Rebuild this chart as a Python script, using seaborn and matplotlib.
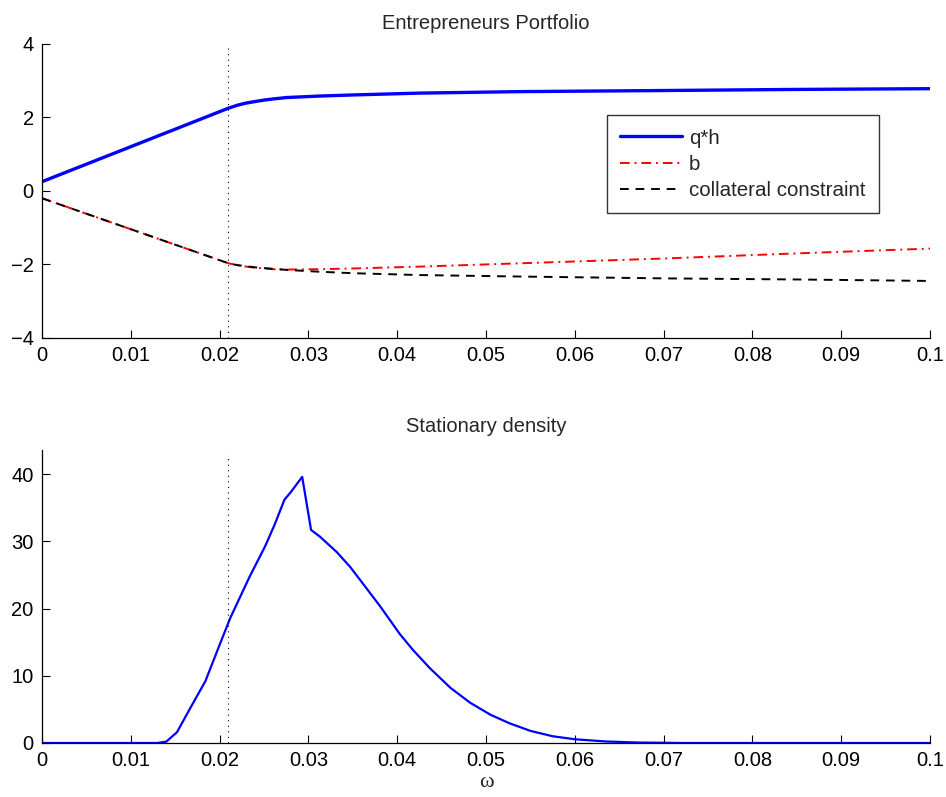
import matplotlib
matplotlib.use("Agg")
import matplotlib.pyplot as plt
import seaborn as sns
import pandas as pd

# ---- data ----
x_top = [0, 0.021, 0.022, 0.023, 0.024, 0.025, 0.026, 0.0276, 0.0313, 0.0351, 0.0426,
         0.0538, 0.07, 0.085, 0.1]
qh = [0.25, 2.25, 2.33, 2.39, 2.43, 2.47, 2.50, 2.54, 2.58, 2.61, 2.66,
      2.70, 2.73, 2.76, 2.78]
b_vals = [-0.2, -1.97, -2.02, -2.06, -2.09, -2.11, -2.13, -2.14, -2.13, -2.11, -2.06,
          -1.97, -1.84, -1.70, -1.57]
collateral = [-0.2, -1.97, -2.02, -2.05, -2.08, -2.10, -2.12, -2.15, -2.20, -2.24, -2.29,
              -2.33, -2.38, -2.41, -2.45]

x_dens = [0, 0.005, 0.01, 0.013, 0.014, 0.0152, 0.0167, 0.0184, 0.0200, 0.0212,
          0.0234, 0.0251, 0.0262, 0.0273, 0.0280, 0.0293, 0.0303, 0.0313, 0.0332,
          0.0347, 0.0358, 0.0381, 0.0403, 0.0418, 0.0437, 0.046, 0.0482, 0.0505,
          0.0527, 0.055, 0.0575, 0.06, 0.0635, 0.067, 0.072, 0.08, 0.09, 0.1]
y_dens = [0, 0, 0, 0, 0.2, 1.6, 5.2, 9.2, 14.6, 18.6,
          24.8, 29.2, 32.5, 36.2, 37.3, 39.6, 31.7, 30.7, 28.4,
          26.2, 24.3, 20.3, 16.2, 13.8, 11.1, 8.2, 6.0, 4.2,
          2.9, 1.8, 1.0, 0.55, 0.22, 0.07, 0, 0, 0, 0]

omega_star = 0.0209
x_ticks = [0, 0.01, 0.02, 0.03, 0.04, 0.05, 0.06, 0.07, 0.08, 0.09, 0.1]
x_ticklabels = ["0", "0.01", "0.02", "0.03", "0.04", "0.05", "0.06", "0.07", "0.08", "0.09", "0.1"]
top_yticks = [-4, -2, 0, 2, 4]
bot_yticks = [0, 10, 20, 30, 40]

FS = 14.5

sns.set_style("ticks")
plt.rcParams['font.family'] = ['Liberation Sans', 'DejaVu Sans']
plt.rcParams['font.size'] = FS

fig = plt.figure(figsize=(9.46, 7.97), dpi=100)
ax1 = fig.add_axes([0.0444, 0.576, 0.9387, 0.369])
ax2 = fig.add_axes([0.0444, 0.0678, 0.9387, 0.3676])

df_top = pd.DataFrame({"x": x_top, "qh": qh, "b": b_vals, "col": collateral})
sns.lineplot(data=df_top, x="x", y="qh", ax=ax1, color="#0000ff", lw=2.4, label="q*h")
sns.lineplot(data=df_top, x="x", y="b", ax=ax1, color="#ff0000", lw=1.4, label="b")
ax1.lines[-1].set_dashes((5, 2.5, 1, 2.5))
sns.lineplot(data=df_top, x="x", y="col", ax=ax1, color="black", lw=1.4,
             label="collateral constraint")
ax1.lines[-1].set_dashes((4.5, 3.5))
ax1.axvline(omega_star, color="black", lw=0.8, linestyle=(0, (1, 4)), ymax=0.985)

ax1.set_xlim(0, 0.1)
ax1.set_ylim(-4, 4)
ax1.set_xticks(x_ticks)
ax1.set_xticklabels(x_ticklabels)
ax1.set_yticks(top_yticks)
ax1.set_yticklabels(["\u22124", "\u22122", "0", "2", "4"])
ax1.set_xlabel("")
ax1.set_ylabel("")
ax1.set_title("Entrepreneurs Portfolio", fontsize=FS, pad=11)
leg = ax1.legend(loc="upper left", bbox_to_anchor=(0.636, 0.757), frameon=True,
                 fancybox=False, edgecolor="black", fontsize=14.8, handlelength=3.0,
                 handletextpad=0.35, borderpad=0.65, labelspacing=0.35,
                 borderaxespad=0)
leg.get_frame().set_linewidth(1.0)

df_d = pd.DataFrame({"x": x_dens, "y": y_dens})
sns.lineplot(data=df_d, x="x", y="y", ax=ax2, color="#0000ff", lw=1.6)
ax2.axvline(omega_star, color="black", lw=0.8, linestyle=(0, (1, 4)), ymax=0.985)
ax2.set_xlim(0, 0.1)
ax2.set_ylim(0, 43.6)
ax2.set_xticks(x_ticks)
ax2.set_xticklabels(x_ticklabels)
ax2.set_yticks(bot_yticks)
ax2.set_ylabel("")
ax2.set_xlabel("\u03c9", family=["Liberation Serif", "DejaVu Serif"], fontsize=16, labelpad=2)
ax2.set_title("Stationary density", fontsize=FS, pad=13)

for ax in (ax1, ax2):
    sns.despine(ax=ax)
    ax.tick_params(direction="in", length=6, width=0.8, labelsize=FS, pad=6, colors="black")
    for s in ("left", "bottom"):
        ax.spines[s].set_linewidth(0.9)
        ax.spines[s].set_color("black")

fig.savefig("out.png", dpi=100)
